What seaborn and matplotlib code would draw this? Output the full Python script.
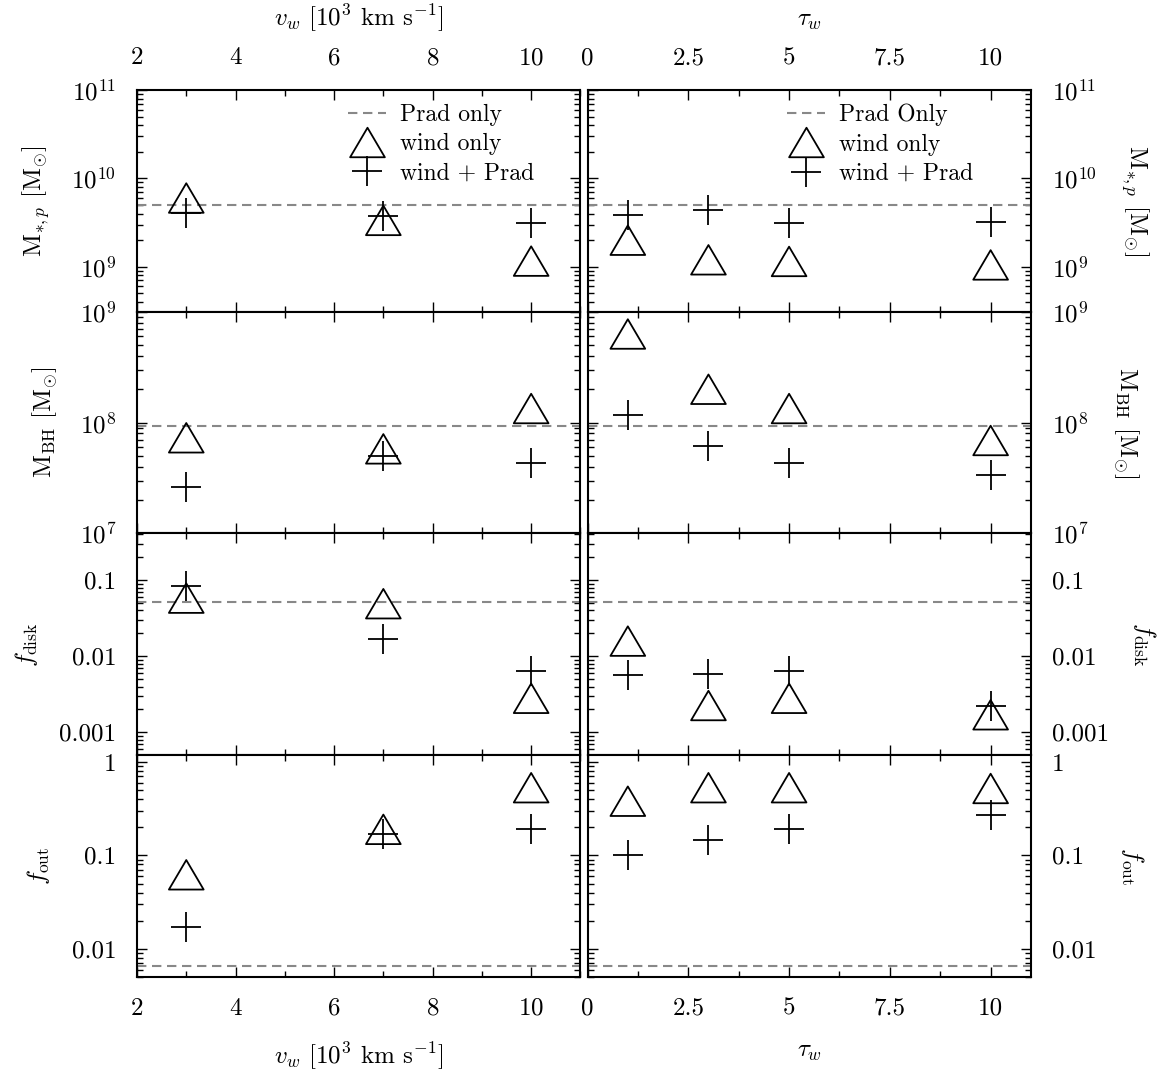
import numpy as np
import matplotlib
matplotlib.use("Agg")
import matplotlib.pyplot as plt
from matplotlib.path import Path
from matplotlib.markers import MarkerStyle
from matplotlib.lines import Line2D
from matplotlib import ticker
import pandas as pd
import seaborn as sns

# ---------------------------------------------------------------- data
vw = [3, 7, 10]            # wind velocity [10^3 km/s]
tau = [1, 3, 5, 10]        # wind optical depth

mstar_wind_v = [6.0e9, 3.35e9, 1.16e9]
mstar_both_v = [4.1e9, 3.8e9, 3.1e9]
mstar_wind_t = [2.0e9, 1.2e9, 1.15e9, 1.05e9]
mstar_both_t = [3.9e9, 4.35e9, 3.1e9, 3.25e9]
mstar_prad = 5.0e9

mbh_wind_v = [7.3e7, 5.8e7, 1.34e8]
mbh_both_v = [2.6e7, 5.0e7, 4.35e7]
mbh_wind_t = [6.3e8, 2.0e8, 1.34e8, 6.9e7]
mbh_both_t = [1.17e8, 6.15e7, 4.35e7, 3.35e7]
mbh_prad = 9.3e7

fdisk_wind_v = [0.058, 0.049, 0.0028]
fdisk_both_v = [0.084, 0.0166, 0.0064]
fdisk_wind_t = [0.0158, 0.00225, 0.0028, 0.0017]
fdisk_both_t = [0.0056, 0.0058, 0.0064, 0.0022]
fdisk_prad = 0.052

fout_wind_v = [0.062, 0.19, 0.53]
fout_both_v = [0.0173, 0.171, 0.193]
fout_wind_t = [0.38, 0.53, 0.53, 0.52]
fout_both_t = [0.10, 0.147, 0.193, 0.268]
fout_prad = 0.0066

row_labels = [r"M$_{*,p}$ [M$_{\odot}$]", r"M$_{\rm BH}$ [M$_{\odot}$]",
              r"$f_{\rm disk}$", r"$f_{\rm out}$"]
row_limits = [(3.1e8, 1e11), (1e7, 1e9), (5e-4, 0.41), (5e-3, 1.18)]
row_prad = [mstar_prad, mbh_prad, fdisk_prad, fout_prad]
wind_v = [mstar_wind_v, mbh_wind_v, fdisk_wind_v, fout_wind_v]
both_v = [mstar_both_v, mbh_both_v, fdisk_both_v, fout_both_v]
wind_t = [mstar_wind_t, mbh_wind_t, fdisk_wind_t, fout_wind_t]
both_t = [mstar_both_t, mbh_both_t, fdisk_both_t, fout_both_t]

# ---------------------------------------------------------------- style
sns.set_theme(style="ticks")
plt.rcParams.update({
    "font.family": "serif",
    "font.serif": ["cmr10"],
    "mathtext.fontset": "cm",
    "axes.formatter.use_mathtext": True,
    "axes.unicode_minus": False,
    "font.size": 18,
    "axes.labelsize": 18,
    "xtick.labelsize": 18,
    "ytick.labelsize": 18,
    "legend.fontsize": 17,
    "axes.edgecolor": "black",
    "axes.linewidth": 1.5,
    "text.color": "black",
    "axes.labelcolor": "black",
    "xtick.color": "black",
    "ytick.color": "black",
})

tri = MarkerStyle(Path([(0, 0.85), (-1, -0.85), (1, -0.85), (0, 0.85)],
                       [Path.MOVETO, Path.LINETO, Path.LINETO, Path.CLOSEPOLY]),
                  joinstyle="miter")
TRI_MS = 25
PLUS_MS = 22
MEW = 1.3
DASH = (0, (4.5, 2.7))
GREY = "#888888"

fig = plt.figure(figsize=(11.75, 10.73), dpi=100)
gs = fig.add_gridspec(4, 2, left=0.1166, right=0.8774, top=0.9161,
                      bottom=0.0895, hspace=0, wspace=0.016)
axes = np.array([[fig.add_subplot(gs[r, c]) for c in range(2)] for r in range(4)])


def draw(ax, x, wind, both, prad):
    df = pd.DataFrame({"x": list(x) * 2,
                       "y": list(wind) + list(both),
                       "run": ["wind only"] * len(x) + ["wind + Prad"] * len(x)})
    ax.axhline(prad, color=GREY, lw=1.5, ls=DASH, zorder=1)
    sns.scatterplot(data=df[df.run == "wind only"], x="x", y="y", ax=ax,
                    marker=tri, s=TRI_MS ** 2, color="black", facecolor="none",
                    edgecolor="black", linewidth=MEW, zorder=3, legend=False)
    sns.scatterplot(data=df[df.run == "wind + Prad"], x="x", y="y", ax=ax,
                    marker="+", s=PLUS_MS ** 2, color="black",
                    linewidth=MEW, zorder=4, legend=False)


def dec_fmt(v, pos):
    if v >= 1:
        return "%d" % round(v)
    return ("%.6f" % v).rstrip("0")


for r in range(4):
    for c in range(2):
        ax = axes[r, c]
        if c == 0:
            draw(ax, vw, wind_v[r], both_v[r], row_prad[r])
            ax.set_xlim(2, 11)
            ax.xaxis.set_major_locator(ticker.MultipleLocator(2))
            ax.xaxis.set_minor_locator(ticker.MultipleLocator(1))
        else:
            draw(ax, tau, wind_t[r], both_t[r], row_prad[r])
            ax.set_xlim(0, 11)
            ax.xaxis.set_major_locator(ticker.FixedLocator([0, 2.5, 5, 7.5, 10]))
            ax.xaxis.set_major_formatter(ticker.FixedFormatter(["0", "2.5", "5", "7.5", "10"]))
            ax.xaxis.set_minor_locator(ticker.MultipleLocator(1.25))
        ax.set_yscale("log")
        ax.set_ylim(*row_limits[r])
        ax.yaxis.set_major_locator(ticker.LogLocator(base=10, numticks=100))
        ax.yaxis.set_minor_locator(ticker.LogLocator(base=10, subs=np.arange(2, 10), numticks=100))
        ax.yaxis.set_minor_formatter(ticker.NullFormatter())
        if r >= 2:
            ax.yaxis.set_major_formatter(ticker.FuncFormatter(dec_fmt))
        else:
            ax.yaxis.set_major_formatter(ticker.LogFormatterSciNotation())

        ax.tick_params(which="both", direction="in", top=True, bottom=True,
                       left=True, right=True, pad=15, width=1.0)
        ax.tick_params(which="major", length=7)
        ax.tick_params(which="minor", length=4)
        ax.tick_params(labelbottom=(r == 3), labeltop=(r == 0),
                       labelleft=(c == 0), labelright=(c == 1))

        ax.set_xlabel("")
        if c == 0:
            ax.set_ylabel(row_labels[r], labelpad=14)
        else:
            ax.yaxis.set_label_position("right")
            ax.set_ylabel(row_labels[r], rotation=270, va="bottom", labelpad=16)

        if r == 0:
            ax.xaxis.set_label_position("top")
        if r in (0, 3):
            ax.set_xlabel(r"$v_w$ [10$^3$ km s$^{-1}$]" if c == 0 else r"$\tau_w$",
                          labelpad=15)

# legends in the top row
for c, first in enumerate(["Prad only", "Prad Only"]):
    handles = [
        Line2D([], [], color=GREY, lw=1.5, ls=DASH),
        Line2D([], [], ls="none", marker=tri, ms=TRI_MS, mfc="none", mec="black", mew=MEW),
        Line2D([], [], ls="none", marker="+", ms=PLUS_MS, mec="black", mew=MEW),
    ]
    x0 = 0.455 if c == 0 else 0.429
    axes[0, c].legend(handles, [first, "wind only", "wind + Prad"],
                      loc="upper left", bbox_to_anchor=(x0, 0.98),
                      frameon=False, borderaxespad=0, handlelength=1.6,
                      handletextpad=0.6, labelspacing=0.3, numpoints=1)

fig.savefig("out.png", dpi=100)
